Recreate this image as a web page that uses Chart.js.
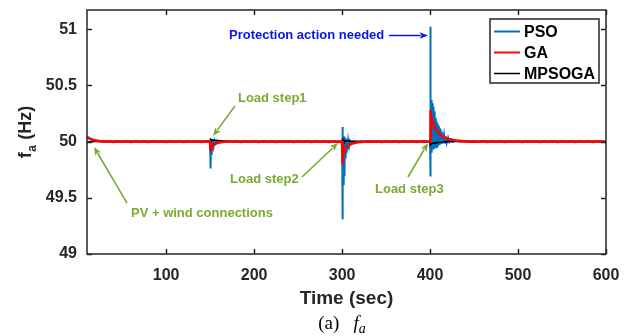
<!DOCTYPE html>
<html>
<head>
<meta charset="utf-8">
<script src="https://cdn.jsdelivr.net/npm/chart.js@4.4.1/dist/chart.umd.min.js"></script>
<style>
    html, body { margin: 0; padding: 0; background: #fff; overflow: hidden; }
    #wrap { position: relative; width: 636px; height: 336px; }
    #caption {
        position: absolute; left: 242px; width: 200px; top: 312px;
        text-align: center; line-height: 22px;
        font-family: 'Liberation Serif', 'DejaVu Serif', serif; font-size: 19px; color: #000;
    }
    #caption sub { font-size: 14px; vertical-align: -4px; line-height: 0; }
</style>
</head>
<body>
<div id="wrap">
    <canvas id="graph" width="636" height="336"></canvas>
    <div id="caption">(a)&nbsp;&nbsp;&nbsp;<i>f<sub>a</sub></i></div>
</div>
<script>
// time (sec), frequency (Hz)
const psoPoints = [
    [10, 50.045], [12, 50.03], [16, 50.015], [22, 50.005], [30, 50.0],
    [150, 50.0], [150.3, 50.02], [150.6, 49.76], [151, 50.02], [151.5, 49.88], [152, 50.015],
    [152.5, 49.93], [153.2, 50.01], [154, 49.96], [155, 50.005], [156, 49.98], [158, 50.0],
    [300, 50.0], [300.3, 50.13], [300.6, 49.31], [301, 50.06], [301.4, 49.62], [301.8, 50.05],
    [302.2, 49.7], [302.6, 50.04], [303, 49.78], [303.5, 50.03], [304, 49.85], [304.5, 50.02],
    [305, 49.9], [305.5, 50.015], [306.2, 49.93], [307, 50.01], [308, 49.96], [309, 50.005],
    [310.5, 49.98], [313, 50.0],
    [400, 50.0], [400.2, 51.02], [400.5, 49.69], [400.8, 50.38], [401.2, 49.91], [401.6, 50.37],
    [402, 49.92], [402.5, 50.34], [403, 49.93], [403.5, 50.31], [404, 49.93], [404.5, 50.27],
    [405, 49.94], [405.5, 50.24], [406, 49.95], [406.5, 50.21], [407, 49.95], [407.5, 50.18],
    [408, 49.96], [408.5, 50.16], [409, 49.96], [409.5, 50.14], [410, 49.97], [410.5, 50.12],
    [411, 49.97], [411.5, 50.11], [412, 49.98], [412.7, 50.09], [413.4, 49.98], [414.2, 50.07],
    [415, 49.985], [416, 50.055], [417, 49.99], [418, 50.045], [419, 49.99], [420.5, 50.035],
    [422, 49.995], [424, 50.02], [426, 49.998], [429, 50.01], [433, 50.0], [600, 50.0]
];

const gaPoints = [
    [10, 50.04], [12, 50.03], [15, 50.02], [18, 50.012], [22, 50.006], [26, 50.002],
    [30, 49.998], [35, 50.002], [40, 49.997], [45, 50.003], [50, 49.998], [55, 50.002],
    [60, 49.997], [65, 50.003], [70, 49.998], [75, 50.002], [80, 49.997], [85, 50.003],
    [90, 49.998], [95, 50.002], [100, 49.997], [105, 50.003], [110, 49.998], [115, 50.002],
    [120, 49.997], [125, 50.003], [130, 49.998], [135, 50.002], [140, 49.997], [145, 50.002],
    [150, 50.0], [150.4, 49.915], [151, 49.94], [152, 49.955], [154, 49.972], [157, 49.985],
    [161, 49.993], [166, 49.998], [170, 50.002], [175, 49.998], [180, 50.003], [185, 49.997],
    [190, 50.002], [195, 49.998], [200, 50.003], [205, 49.997], [210, 50.002], [215, 49.998],
    [220, 50.003], [225, 49.997], [230, 50.002], [235, 49.998], [240, 50.003], [245, 49.997],
    [250, 50.002], [255, 49.998], [260, 50.003], [265, 49.997], [270, 50.002], [275, 49.998],
    [280, 50.003], [285, 49.997], [290, 50.002], [295, 49.998],
    [300, 50.0], [300.4, 49.8], [301, 49.87], [302, 49.91], [304, 49.94], [306, 49.958],
    [309, 49.974], [313, 49.986], [318, 49.994], [325, 49.999], [330, 50.002], [335, 49.998],
    [340, 50.003], [345, 49.997], [350, 50.002], [355, 49.998], [360, 50.003], [365, 49.997],
    [370, 50.002], [375, 49.998], [380, 50.003], [385, 49.997], [390, 50.002], [395, 49.998],
    [400, 50.0], [400.4, 50.28], [401, 50.24], [402, 50.2], [403.5, 50.165], [405, 50.135],
    [407, 50.105], [409, 50.08], [411, 50.062], [414, 50.045], [418, 50.03], [423, 50.018],
    [429, 50.01], [437, 50.004], [445, 49.999], [450, 50.002], [455, 49.998], [460, 50.003],
    [465, 49.997], [470, 50.002], [475, 49.998], [480, 50.003], [485, 49.997], [490, 50.002],
    [495, 49.998], [500, 50.003], [505, 49.997], [510, 50.002], [515, 49.998], [520, 50.003],
    [525, 49.997], [530, 50.002], [535, 49.998], [540, 50.003], [545, 49.997], [550, 50.002],
    [555, 49.998], [560, 50.003], [565, 49.997], [570, 50.002], [575, 49.998], [580, 50.003],
    [585, 49.997], [590, 50.002], [595, 49.998], [600, 50.0]
];

const mpsogaPoints = [
    [10, 49.995], [15, 49.998], [20, 50.0],
    [150, 50.0], [150.3, 50.03], [150.7, 49.985], [151.2, 50.015], [155, 50.012], [160, 50.008],
    [165, 50.005], [172, 50.002], [180, 50.0],
    [300, 50.0], [300.3, 50.03], [300.7, 49.94], [301.3, 49.985], [302, 50.008], [306, 50.006],
    [312, 50.003], [320, 50.0],
    [400, 50.0], [400.3, 50.1], [400.7, 49.97], [401.5, 49.98], [403, 49.985], [406, 49.988],
    [410, 49.992], [415, 49.996], [420, 49.999], [430, 50.0], [600, 50.0]
];

const seriesNames = ['PSO', 'GA', 'MPSOGA'];
const seriesColors = ['#0072BD', '#FF0000', '#000000'];

const xTicks = [100, 200, 300, 400, 500, 600];
const yTicks = [49, 49.5, 50, 50.5, 51];

// text notes: label position and arrow tail/tip, all in (sec, Hz)
const notes = [
    { text: 'Protection action needed', color: '#0A14E6', at: [171.4, 50.943], tail: [353.3, 50.943], tip: [397.6, 50.943] },
    { text: 'Load step1', color: '#77AC30', at: [181.6, 50.387], tail: [178.2, 50.316], tip: [153.2, 50.05] },
    { text: 'Load step2', color: '#77AC30', at: [172.6, 49.662], tail: [254.4, 49.685], tip: [295.3, 49.987] },
    { text: 'Load step3', color: '#77AC30', at: [337.4, 49.574], tail: [374.9, 49.685], tip: [397.6, 49.987] },
    { text: 'PV + wind connections', color: '#77AC30', at: [60.0, 49.36], tail: [55.5, 49.453], tip: [18.0, 49.951] }
];

const FONT = "'Liberation Sans', Arial, Helvetica, sans-serif";
const AXIS_COLOR = '#262626';

const toXY = pts => pts.map(p => ({ x: p[0], y: p[1] }));

function drawArrow(c, x1, y1, x2, y2, color) {
    const ang = Math.atan2(y2 - y1, x2 - x1);
    const len = 9, spread = 0.38;
    c.strokeStyle = color;
    c.fillStyle = color;
    c.lineWidth = 1.6;
    c.beginPath();
    c.moveTo(x1, y1);
    c.lineTo(x2 - Math.cos(ang) * len * 0.8, y2 - Math.sin(ang) * len * 0.8);
    c.stroke();
    c.beginPath();
    c.moveTo(x2, y2);
    c.lineTo(x2 - len * Math.cos(ang - spread), y2 - len * Math.sin(ang - spread));
    c.lineTo(x2 - len * 0.7 * Math.cos(ang), y2 - len * 0.7 * Math.sin(ang));
    c.lineTo(x2 - len * Math.cos(ang + spread), y2 - len * Math.sin(ang + spread));
    c.closePath();
    c.fill();
}

// axes box with inward ticks, axis titles, notes and legend
const matlabLook = {
    id: 'matlabLook',
    afterDatasetsDraw(chart) {
        const c = chart.ctx;
        const a = chart.chartArea;
        const x = chart.scales.x, y = chart.scales.y;
        c.save();

        // notes
        c.font = 'bold 13px ' + FONT;
        c.textBaseline = 'middle';
        c.textAlign = 'left';
        notes.forEach(n => {
            c.fillStyle = n.color;
            c.fillText(n.text, x.getPixelForValue(n.at[0]), y.getPixelForValue(n.at[1]));
            drawArrow(c,
                x.getPixelForValue(n.tail[0]), y.getPixelForValue(n.tail[1]),
                x.getPixelForValue(n.tip[0]), y.getPixelForValue(n.tip[1]), n.color);
        });

        // box and ticks
        c.strokeStyle = AXIS_COLOR;
        c.lineWidth = 1.5;
        c.strokeRect(a.left, a.top, a.right - a.left, a.bottom - a.top);
        c.beginPath();
        xTicks.forEach(v => {
            const px = Math.round(x.getPixelForValue(v)) + 0.5;
            c.moveTo(px, a.bottom); c.lineTo(px, a.bottom - 5);
            c.moveTo(px, a.top); c.lineTo(px, a.top + 5);
        });
        yTicks.forEach(v => {
            const py = Math.round(y.getPixelForValue(v)) + 0.5;
            c.moveTo(a.left, py); c.lineTo(a.left + 5, py);
            c.moveTo(a.right, py); c.lineTo(a.right - 5, py);
        });
        c.stroke();

        // x title
        c.fillStyle = AXIS_COLOR;
        c.font = 'bold 19px ' + FONT;
        c.textAlign = 'center';
        c.textBaseline = 'alphabetic';
        c.fillText('Time (sec)', (a.left + a.right) / 2, 304);

        // y title: f_a (Hz)
        const big = 'bold 18px ' + FONT, small = 'bold 12px ' + FONT;
        c.font = big;
        const wf = c.measureText('f').width;
        const wr = c.measureText(' (Hz)').width;
        c.font = small;
        const wa = c.measureText('a').width;
        const total = wf + wa + wr + 1;
        c.translate(31, (a.top + a.bottom) / 2);
        c.rotate(-Math.PI / 2);
        c.textAlign = 'left';
        let sx = -total / 2;
        c.font = big;
        c.fillText('f', sx, 0);
        sx += wf + 0.5;
        c.font = small;
        c.fillText('a', sx, 5);
        sx += wa + 0.5;
        c.font = big;
        c.fillText(' (Hz)', sx, 0);
        c.setTransform(1, 0, 0, 1, 0, 0);

        // legend
        const lx = 490, ly = 19, lw = 109, lh = 64;
        c.fillStyle = '#fff';
        c.fillRect(lx, ly, lw, lh);
        c.strokeStyle = AXIS_COLOR;
        c.lineWidth = 1.5;
        c.strokeRect(lx, ly, lw, lh);
        c.font = 'bold 16px ' + FONT;
        c.textAlign = 'left';
        c.textBaseline = 'middle';
        seriesNames.forEach((name, i) => {
            const ry = ly + 12.5 + i * 21;
            c.strokeStyle = seriesColors[i];
            c.lineWidth = i === 2 ? 1.5 : 2;
            c.beginPath();
            c.moveTo(lx + 4, ry); c.lineTo(lx + 30, ry);
            c.stroke();
            c.fillStyle = '#000';
            c.fillText(name, lx + 34, ry + 1);
        });
        c.restore();
    }
};

const graph = document.getElementById('graph').getContext('2d');

const tickFont = { family: FONT, size: 16, weight: 'bold' };

new Chart(graph, {
    type: 'line',
    data: {
        // first dataset is painted last, so GA sits on top and PSO underneath
        datasets: [
            { label: seriesNames[1], data: toXY(gaPoints), borderColor: seriesColors[1], borderWidth: 2.6 },
            { label: seriesNames[2], data: toXY(mpsogaPoints), borderColor: seriesColors[2], borderWidth: 1.6 },
            { label: seriesNames[0], data: toXY(psoPoints), borderColor: seriesColors[0], borderWidth: 2 }
        ]
    },
    options: {
        responsive: false,
        animation: false,
        events: [],
        elements: {
            point: { radius: 0 },
            line: { tension: 0, borderJoinStyle: 'miter', fill: false }
        },
        layout: { padding: { top: 10, right: 30, left: 0, bottom: 0 } },
        plugins: {
            legend: { display: false },
            tooltip: { enabled: false }
        },
        scales: {
            x: {
                type: 'linear',
                min: 10,
                max: 600,
                afterBuildTicks: s => { s.ticks = xTicks.map(v => ({ value: v })); },
                afterFit: s => { s.height = 82; s.paddingLeft = 0; s.paddingRight = 0; },
                grid: { display: false, drawTicks: false },
                border: { display: false },
                ticks: { color: AXIS_COLOR, font: tickFont, padding: 12, maxRotation: 0, autoSkip: false,
                         callback: v => String(v) }
            },
            y: {
                type: 'linear',
                min: 49,
                max: 51.17,
                afterBuildTicks: s => { s.ticks = yTicks.map(v => ({ value: v })); },
                afterFit: s => { s.width = 87; s.paddingTop = 0; s.paddingBottom = 0; },
                grid: { display: false, drawTicks: false },
                border: { display: false },
                ticks: { color: AXIS_COLOR, font: tickFont, padding: 10, autoSkip: false,
                         callback: v => String(v) }
            }
        }
    },
    plugins: [matlabLook]
});
</script>
</body>
</html>
